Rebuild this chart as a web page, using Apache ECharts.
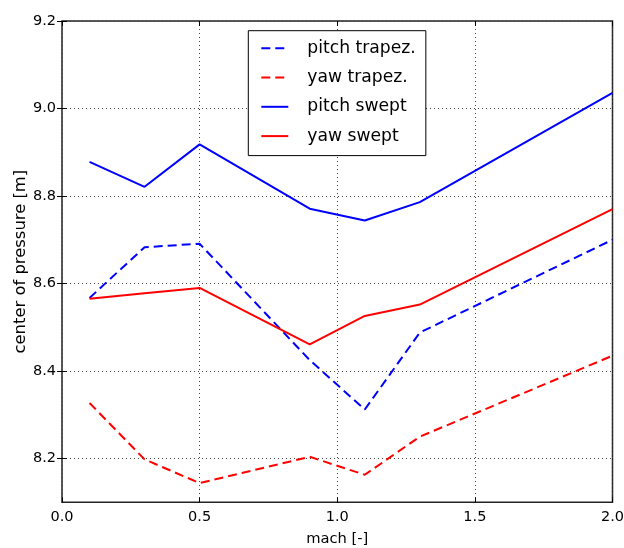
<!DOCTYPE html>
<html><head><meta charset="utf-8">
<script src="https://cdn.jsdelivr.net/npm/echarts@6/dist/echarts.min.js"></script>
<style>html,body{margin:0;padding:0;background:#fff}#c{width:624px;height:548px}</style>
</head><body><div id="c"></div>
<script>
const mach = [0.1, 0.3, 0.5, 0.9, 1.1, 1.3, 2.0];
const pitchTrapez = [8.567, 8.683, 8.691, 8.425, 8.312, 8.488, 8.700];
const yawTrapez   = [8.327, 8.198, 8.144, 8.204, 8.163, 8.250, 8.435];
const pitchSwept  = [8.878, 8.821, 8.918, 8.771, 8.744, 8.786, 9.036];
const yawSwept    = [8.565, 8.578, 8.590, 8.461, 8.526, 8.552, 8.770];
const names = ['pitch trapez.', 'yaw trapez.', 'pitch swept', 'yaw swept'];
const xTicks = [0.0, 0.5, 1.0, 1.5, 2.0];
const yTicks = [8.2, 8.4, 8.6, 8.8, 9.0, 9.2];

const font = 'DejaVu Sans';
function pairs(ys){ return mach.map((x,i)=>[x, ys[i]]); }
function mk(name, ys, color, dashed){
  return {name, type:'line', data:pairs(ys), showSymbol:false, symbol:'none', animation:false,
    lineStyle:{color, width:2, type: dashed ? [9,5] : 'solid'}, itemStyle:{color}};
}
const chart = echarts.init(document.getElementById('c'), null, {renderer:'canvas'});
const gridLine = {show:true, lineStyle:{color:'#444', type:[1,3], width:1}};
const tick = {show:true, inside:true, length:5, lineStyle:{color:'#000'}};
chart.setOption({
  backgroundColor:'#fff',
  animation:false,
  grid:{left:62, top:21, right:11.5, bottom:45.7, outerBoundsMode:'none', containLabel:false,
    show:true, borderColor:'#222', borderWidth:1.5, backgroundColor:'transparent'},
  legend:{
    data: names.map(n=>({name:n})),
    orient:'vertical', left:248.3, top:30.7,
    padding:[9,10,11,12], itemGap:12.3, itemWidth:27, itemHeight:17,
    itemStyle:{opacity:0},
    borderColor:'#000', borderWidth:1, backgroundColor:'#fff',
    textStyle:{fontFamily:font, fontSize:17.2, color:'#000', padding:[0,0,0,14]},
  },
  xAxis:[{type:'value', min:0, max:2, interval:0.5, position:'bottom',
    name:'mach [-]', nameLocation:'middle', nameGap:29, nameMoveOverlap:false,
    nameTextStyle:{fontFamily:font, fontSize:14.7, color:'#000'},
    axisLine:{show:false}, axisTick:tick,
    axisLabel:{fontFamily:font, fontSize:14.5, color:'#000', margin:7, formatter:v=>v.toFixed(1)},
    splitLine:gridLine},
    {type:'value', min:0, max:2, interval:0.5, position:'top',
    axisLine:{show:false}, axisTick:tick,
    axisLabel:{show:false}, splitLine:{show:false}}],
  yAxis:[{type:'value', min:8.1, max:9.2,
    name:'center of pressure [m]', nameLocation:'middle', nameGap:33, nameRotate:90, nameMoveOverlap:false,
    nameTextStyle:{fontFamily:font, fontSize:16.4, color:'#000'},
    axisLine:{show:false},
    axisLabel:{fontFamily:font, fontSize:14.5, color:'#000', margin:6,
      customValues: yTicks, formatter:v=>v.toFixed(1)},
    axisTick:Object.assign({customValues: yTicks}, tick),
    splitLine:gridLine},
    {type:'value', min:8.1, max:9.2, position:'right',
    axisLine:{show:false}, axisTick:Object.assign({customValues: yTicks}, tick),
    axisLabel:{show:false}, splitLine:{show:false}}],
  series:[
    mk(names[0], pitchTrapez, '#0000ff', true),
    mk(names[1], yawTrapez, '#ff0000', true),
    mk(names[2], pitchSwept, '#0000ff', false),
    mk(names[3], yawSwept, '#ff0000', false)
  ]
});
</script></body></html>
